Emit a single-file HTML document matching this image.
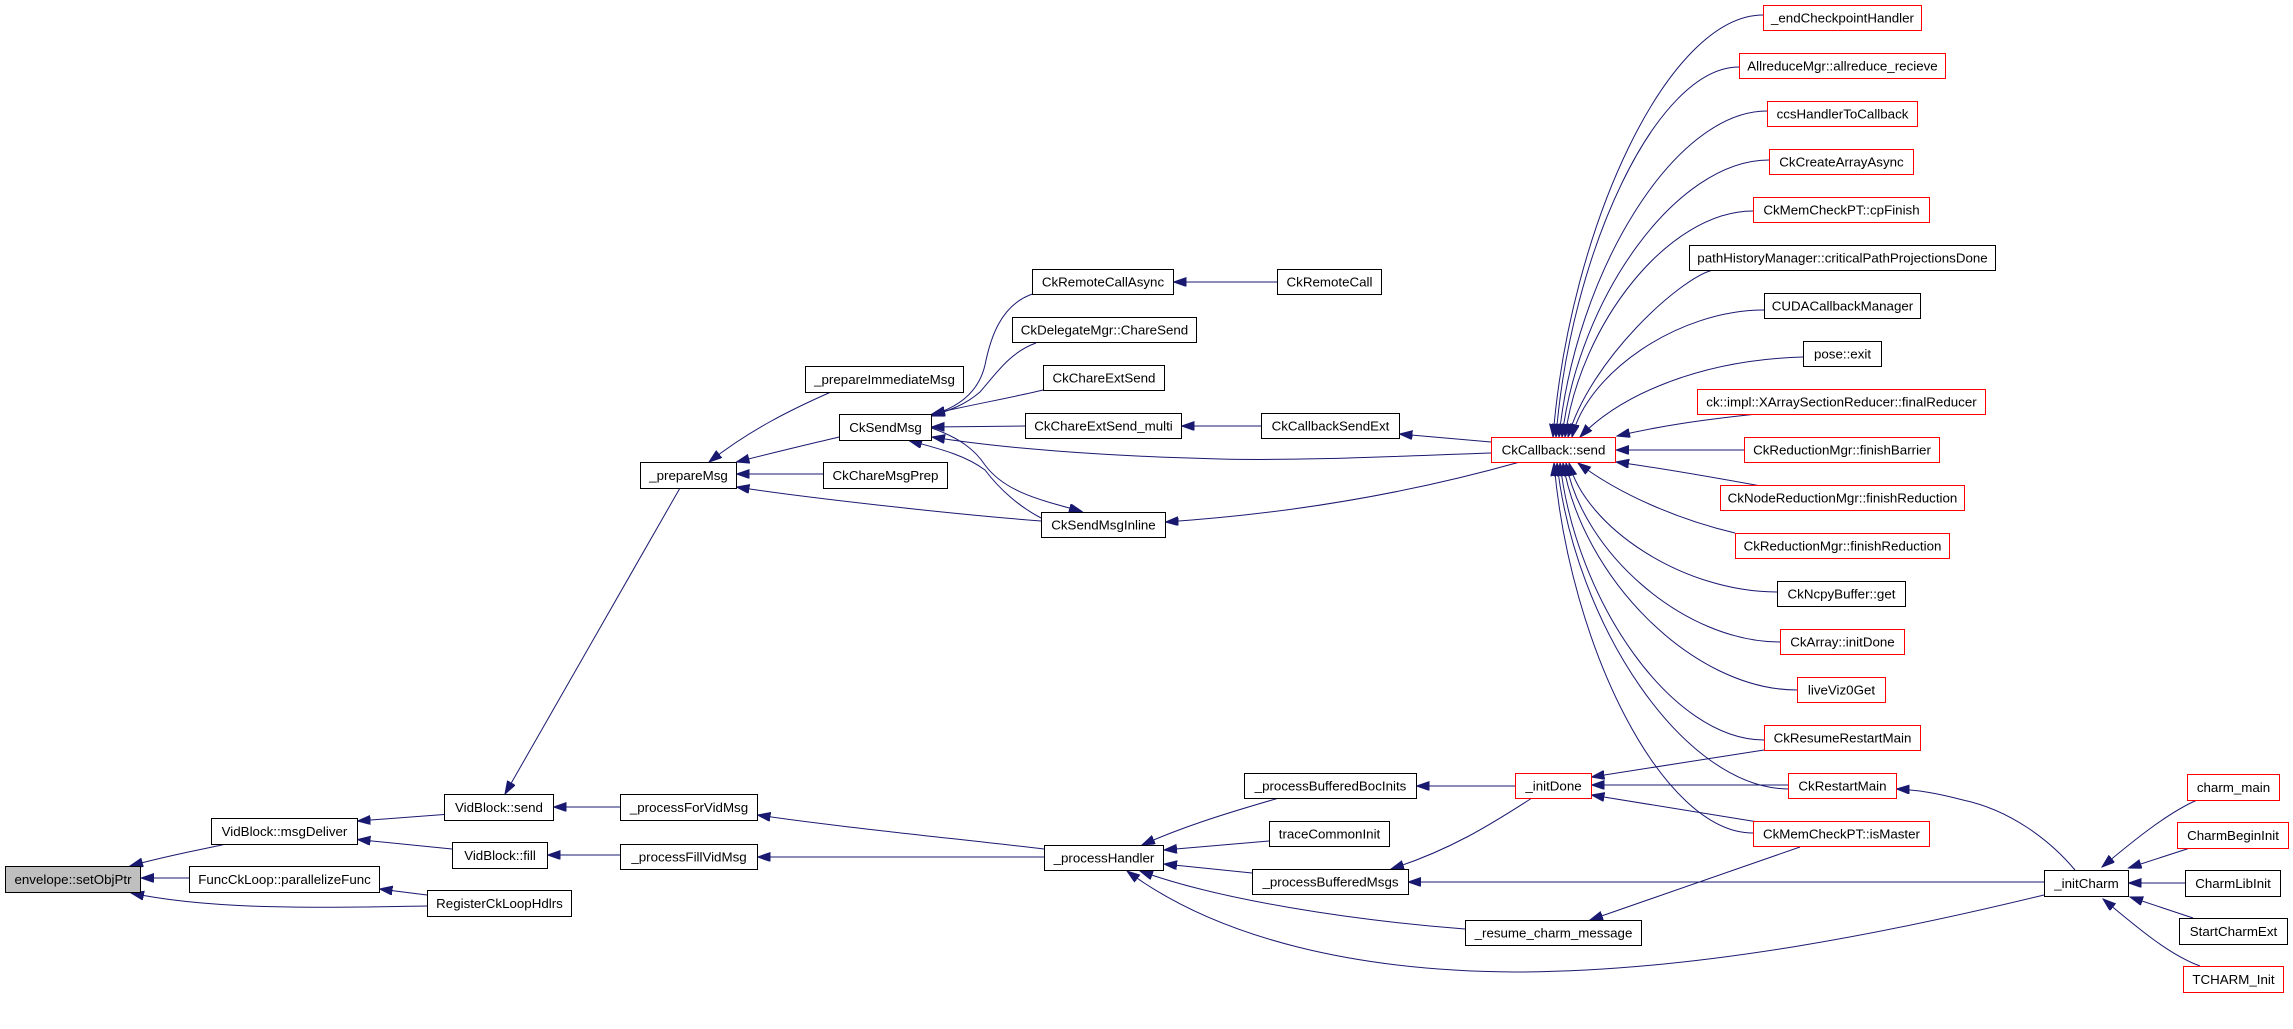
<!DOCTYPE html>
<html><head><meta charset="utf-8"><style>
html,body{margin:0;padding:0;background:#fff;}
svg{display:block;}
text{font-family:"Liberation Sans",Arial,sans-serif;font-size:13.33px;fill:#000;text-anchor:middle;}
.e{fill:none;stroke:#191970;stroke-width:1;}
.n{fill:#fff;stroke:#000;stroke-width:1;}
.r{fill:#fff;stroke:#ff0000;stroke-width:1;}
</style></head><body>
<svg width="2293" height="1029" viewBox="0 0 2293 1029" xmlns="http://www.w3.org/2000/svg">
<defs>
<marker id="a" markerUnits="userSpaceOnUse" markerWidth="14" markerHeight="10" refX="13" refY="4.5" orient="auto">
<path d="M0,0 L13,4.5 L0,9 z" fill="#191970" stroke="#191970" stroke-width="1"/>
</marker>
</defs>
<rect width="2293" height="1029" fill="#fff"/>
<g marker-end="url(#a)">
<!-- left part -->
<path class="e" d="M226,844 C200,850 170,855 130,866"/>
<path class="e" d="M189,878 L141,878"/>
<path class="e" d="M427,906 C350,907 220,912 131,893"/>
<path class="e" d="M444,814.5 L357.5,821"/>
<path class="e" d="M452,849 L357.5,839.5"/>
<path class="e" d="M427,895 L379.5,889"/>
<path class="e" d="M680,488 L505,794"/>
<path class="e" d="M620,807 L553.5,807"/>
<path class="e" d="M620,855 L547.5,855"/>
<path class="e" d="M831,392 C790,410 750,430 709,462"/>
<path class="e" d="M839,437 C810,444 780,451 736.5,462"/>
<path class="e" d="M823,474 L736.5,474"/>
<path class="e" d="M1041,521 C950,514 800,497 736.5,487"/>
<path class="e" d="M1044,849 C950,838 830,826 757.5,815"/>
<path class="e" d="M1044,857 L757.5,857"/>
<!-- CkSendMsg -->
<path class="e" d="M1032.5,294 C1000,305 990,340 985,365 C978,395 955,408 932,415"/>
<path class="e" d="M1036,343 C1010,352 995,375 980,392 C965,405 950,410 932,416"/>
<path class="e" d="M1043,390 C1010,398 970,405 932,414"/>
<path class="e" d="M1025,426 L931.5,427"/>
<path class="e" d="M1491,453 C1400,456 1300,461 1220,459 C1100,456 1000,448 932,437"/>
<path class="e" d="M1041,518 C1020,507 1000,490 985,470 C965,455 940,449 909,440.5"/>
<path class="e" d="M931.5,428 C960,438 975,450 985,465 C1005,492 1040,500 1082,511.5"/>
<path class="e" d="M1518,462.5 C1420,490 1300,513 1165.5,522"/>
<path class="e" d="M1277,282 L1173.5,282"/>
<path class="e" d="M1261,426 L1181.5,426"/>
<path class="e" d="M1491,442 L1399.5,434"/>
<!-- processHandler -->
<path class="e" d="M1279,798 C1220,815 1180,828 1142,845"/>
<path class="e" d="M1269,841 L1164,850"/>
<path class="e" d="M1252,873 L1164,864"/>
<path class="e" d="M1465,929 C1350,920 1220,900 1140,871"/>
<path class="e" d="M2044,895 C1900,930 1700,972 1514,972 C1360,971 1220,940 1127,871"/>
<path class="e" d="M1515,786 L1416.5,786"/>
<path class="e" d="M1532,798 C1490,825 1450,850 1391,869"/>
<path class="e" d="M2044,882 L1408,882"/>
<path class="e" d="M1800,847 L1590,920"/>
<!-- top fan into CkCallback::send -->
<path class="e" d="M1763,15 C1668.5,15 1570,226 1553,437"/>
<path class="e" d="M1739,67 C1656.7,67 1570.6,252 1556,437"/>
<path class="e" d="M1767,111 C1673.4,111 1575.6,274 1559,437"/>
<path class="e" d="M1769,160 C1675.8,160 1578.6,298.5 1562,437"/>
<path class="e" d="M1753,211 C1668.4,211 1580,324 1565,437"/>
<path class="e" d="M1713,270 C1680,278 1590,360 1568,437"/>
<path class="e" d="M1764,310 C1677.6,310 1587,373.5 1572,437"/>
<path class="e" d="M1803,357 C1700,360 1620,395 1580,437"/>
<path class="e" d="M1757,414 C1700,420 1660,426 1617,436"/>
<path class="e" d="M1744,450 L1616,450"/>
<path class="e" d="M1758,485.5 C1700,475 1660,468 1616,462"/>
<!-- bottom fan -->
<path class="e" d="M1735,533 C1680,520 1620,495 1578,463"/>
<path class="e" d="M1777,592 C1683,592 1586,527.5 1569,463"/>
<path class="e" d="M1780,642 C1684,642 1583,552.5 1566,463"/>
<path class="e" d="M1797,690 C1692,690 1582,576.5 1563,463"/>
<path class="e" d="M1764,740 C1672,740 1576,601.5 1560,463"/>
<path class="e" d="M1788,789 C1684,788 1575,625.5 1557,463"/>
<path class="e" d="M1753,833 C1663,833 1570,648 1554,463"/>
<!-- initDone -->
<path class="e" d="M1764,750 L1591.5,777"/>
<path class="e" d="M1788,785 L1591.5,785"/>
<path class="e" d="M1758,822 L1591.5,795"/>
<!-- initCharm -->
<path class="e" d="M2075,870 C2050,840 2010,810 1963,800 C1940,794 1920,790 1896.5,789"/>
<path class="e" d="M2197,800 C2170,812 2140,835 2102,867"/>
<path class="e" d="M2190,848 L2128.5,868"/>
<path class="e" d="M2185,883 L2128.5,883"/>
<path class="e" d="M2193,918 L2130,897"/>
<path class="e" d="M2200,966 C2170,955 2140,930 2103,899"/>
</g>

<!-- nodes -->
<rect x="5.5" y="866.5" width="135" height="26" fill="#bfbfbf" stroke="#000"/><text x="73" y="884">envelope::setObjPtr</text>
<rect class="n" x="211.5" y="818.5" width="146" height="26"/><text x="284.5" y="836">VidBlock::msgDeliver</text>
<rect class="n" x="189.5" y="866.5" width="190" height="26"/><text x="284.5" y="884">FuncCkLoop::parallelizeFunc</text>
<rect class="n" x="444.5" y="794.5" width="109" height="26"/><text x="499" y="812">VidBlock::send</text>
<rect class="n" x="452.5" y="842.5" width="95" height="26"/><text x="500" y="860">VidBlock::fill</text>
<rect class="n" x="427.5" y="890.5" width="144" height="26"/><text x="499.5" y="908">RegisterCkLoopHdlrs</text>
<rect class="n" x="640.5" y="462.5" width="96" height="26"/><text x="688.5" y="480">_prepareMsg</text>
<rect class="n" x="620.5" y="794.5" width="137" height="26"/><text x="689" y="812">_processForVidMsg</text>
<rect class="n" x="620.5" y="844.5" width="137" height="25"/><text x="689" y="861.5">_processFillVidMsg</text>
<rect class="n" x="805.5" y="366.5" width="158" height="26"/><text x="884.5" y="384">_prepareImmediateMsg</text>
<rect class="n" x="839.5" y="414.5" width="92" height="26"/><text x="885.5" y="432">CkSendMsg</text>
<rect class="n" x="823.5" y="462.5" width="124" height="26"/><text x="885.5" y="480">CkChareMsgPrep</text>
<rect class="n" x="1044.5" y="845.5" width="119" height="25"/><text x="1104" y="862.5">_processHandler</text>
<rect class="n" x="1032.5" y="269.5" width="141" height="25"/><text x="1103" y="286.5">CkRemoteCallAsync</text>
<rect class="n" x="1012.5" y="317.5" width="184" height="25"/><text x="1104.5" y="334.5">CkDelegateMgr::ChareSend</text>
<rect class="n" x="1043.5" y="365.5" width="121" height="25"/><text x="1104" y="382.5">CkChareExtSend</text>
<rect class="n" x="1025.5" y="413.5" width="156" height="25"/><text x="1103.5" y="430.5">CkChareExtSend_multi</text>
<rect class="n" x="1041.5" y="512.5" width="124" height="25"/><text x="1103.5" y="529.5">CkSendMsgInline</text>
<rect class="n" x="1277.5" y="269.5" width="104" height="25"/><text x="1329.5" y="286.5">CkRemoteCall</text>
<rect class="n" x="1261.5" y="413.5" width="138" height="25"/><text x="1330.5" y="430.5">CkCallbackSendExt</text>
<rect class="n" x="1244.5" y="773.5" width="172" height="25"/><text x="1330.5" y="790.5">_processBufferedBocInits</text>
<rect class="n" x="1269.5" y="821.5" width="120" height="25"/><text x="1329.5" y="838.5">traceCommonInit</text>
<rect class="n" x="1252.5" y="869.5" width="156" height="25"/><text x="1330.5" y="886.5">_processBufferedMsgs</text>
<rect class="r" x="1491.5" y="437.5" width="124" height="25"/><text x="1553.5" y="454.5">CkCallback::send</text>
<rect class="r" x="1515.5" y="773.5" width="76" height="25"/><text x="1553.5" y="790.5">_initDone</text>
<rect class="n" x="1465.5" y="920.5" width="176" height="25"/><text x="1553.5" y="937.5">_resume_charm_message</text>

<rect class="r" x="1763.5" y="5.5" width="158" height="25"/><text x="1842.5" y="22.5">_endCheckpointHandler</text>
<rect class="r" x="1739.5" y="53.5" width="206" height="25"/><text x="1842.5" y="70.5">AllreduceMgr::allreduce_recieve</text>
<rect class="r" x="1767.5" y="101.5" width="150" height="25"/><text x="1842.5" y="118.5">ccsHandlerToCallback</text>
<rect class="r" x="1769.5" y="149.5" width="144" height="25"/><text x="1841.5" y="166.5">CkCreateArrayAsync</text>
<rect class="r" x="1753.5" y="197.5" width="176" height="25"/><text x="1841.5" y="214.5">CkMemCheckPT::cpFinish</text>
<rect class="n" x="1689.5" y="245.5" width="306" height="25"/><text x="1842.5" y="262.5">pathHistoryManager::criticalPathProjectionsDone</text>
<rect class="n" x="1764.5" y="293.5" width="156" height="25"/><text x="1842.5" y="310.5">CUDACallbackManager</text>
<rect class="n" x="1803.5" y="341.5" width="78" height="25"/><text x="1842.5" y="358.5">pose::exit</text>
<rect class="r" x="1697.5" y="389.5" width="288" height="25"/><text x="1841.5" y="406.5">ck::impl::XArraySectionReducer::finalReducer</text>
<rect class="r" x="1744.5" y="437.5" width="195" height="25"/><text x="1842" y="454.5">CkReductionMgr::finishBarrier</text>
<rect class="r" x="1720.5" y="485.5" width="244" height="25"/><text x="1842.5" y="502.5">CkNodeReductionMgr::finishReduction</text>
<rect class="r" x="1735.5" y="533.5" width="214" height="25"/><text x="1842.5" y="550.5">CkReductionMgr::finishReduction</text>
<rect class="n" x="1777.5" y="581.5" width="128" height="25"/><text x="1841.5" y="598.5">CkNcpyBuffer::get</text>
<rect class="r" x="1780.5" y="629.5" width="124" height="25"/><text x="1842.5" y="646.5">CkArray::initDone</text>
<rect class="r" x="1797.5" y="677.5" width="88" height="25"/><text x="1841.5" y="694.5">liveViz0Get</text>
<rect class="r" x="1764.5" y="725.5" width="156" height="25"/><text x="1842.5" y="742.5">CkResumeRestartMain</text>
<rect class="r" x="1788.5" y="773.5" width="108" height="25"/><text x="1842.5" y="790.5">CkRestartMain</text>
<rect class="r" x="1753.5" y="821.5" width="176" height="25"/><text x="1841.5" y="838.5">CkMemCheckPT::isMaster</text>

<rect class="n" x="2044.5" y="870.5" width="84" height="26"/><text x="2086.5" y="888">_initCharm</text>
<rect class="r" x="2187.5" y="774.5" width="92" height="26"/><text x="2233.5" y="792">charm_main</text>
<rect class="r" x="2177.5" y="822.5" width="111" height="26"/><text x="2233" y="840">CharmBeginInit</text>
<rect class="n" x="2185.5" y="870.5" width="95" height="26"/><text x="2233" y="888">CharmLibInit</text>
<rect class="n" x="2179.5" y="918.5" width="108" height="26"/><text x="2233.5" y="936">StartCharmExt</text>
<rect class="r" x="2183.5" y="966.5" width="100" height="26"/><text x="2233.5" y="984">TCHARM_Init</text>
</svg>
</body></html>
